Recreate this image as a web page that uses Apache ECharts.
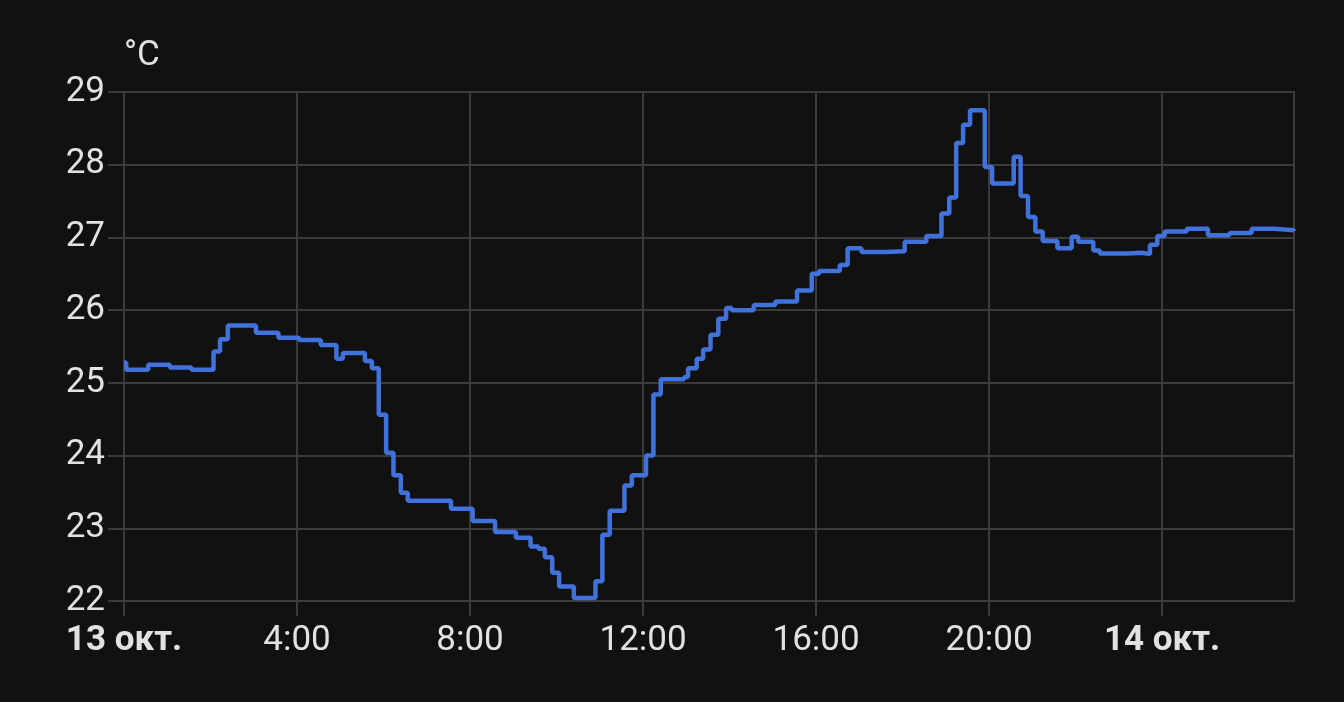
<!DOCTYPE html>
<html>
<head>
<meta charset="utf-8">
<script src="https://cdn.jsdelivr.net/npm/echarts@6/dist/echarts.min.js"></script>
<style>
html,body{margin:0;padding:0;background:#111111;}
#chart{width:1344px;height:702px;}
</style>
</head>
<body>
<div id="chart"></div>
<script>
// hours since 13 Oct 00:00
var hours = [0, 0.05, 0.56, 1.06, 1.56, 2.07, 2.22, 2.40, 3.05, 3.57, 4.05, 4.55, 4.91, 5.06, 5.57, 5.73, 5.89, 6.06, 6.23, 6.40, 6.56, 7.56, 8.06, 8.58, 9.06, 9.40, 9.58, 9.73, 9.90, 10.06, 10.40, 10.90, 11.06, 11.23, 11.57, 11.74, 12.07, 12.24, 12.41, 12.95, 13.04, 13.24, 13.39, 13.56, 13.74, 13.92, 14.05, 14.56, 15.06, 15.56, 15.90, 16.07, 16.55, 16.73, 17.05, 17.6, 18.05, 18.55, 18.90, 19.08, 19.24, 19.40, 19.56, 19.90, 20.07, 20.57, 20.73, 20.90, 21.07, 21.24, 21.58, 21.91, 22.06, 22.41, 22.56, 23.2, 23.53, 23.72, 23.89, 24.06, 24.57, 25.06, 25.56, 26.07, 26.6, 27.05];
var temps = [25.28, 25.18, 25.25, 25.21, 25.18, 25.43, 25.60, 25.79, 25.69, 25.62, 25.59, 25.52, 25.33, 25.41, 25.30, 25.20, 24.56, 24.04, 23.73, 23.49, 23.38, 23.27, 23.10, 22.95, 22.87, 22.75, 22.72, 22.60, 22.39, 22.20, 22.04, 22.27, 22.91, 23.24, 23.59, 23.73, 24.00, 24.84, 25.05, 25.08, 25.20, 25.33, 25.46, 25.66, 25.88, 26.03, 26.00, 26.07, 26.12, 26.27, 26.50, 26.54, 26.62, 26.85, 26.80, 26.81, 26.94, 27.02, 27.33, 27.55, 28.30, 28.55, 28.75, 27.97, 27.74, 28.11, 27.57, 27.28, 27.08, 26.95, 26.85, 27.01, 26.94, 26.82, 26.78, 26.79, 26.77, 26.90, 27.02, 27.08, 27.12, 27.03, 27.06, 27.12, 27.10, 27.09];
var xTicks = [0, 4, 8, 12, 16, 20, 24];
var xTickLabels = ['13 окт.', '4:00', '8:00', '12:00', '16:00', '20:00', '14 окт.'];
var yTicks = [22, 23, 24, 25, 26, 27, 28, 29];
var unitName = '°C';

var gridColor = '#3b3b3b';
var textColor = '#e2e2e2';
var data = hours.map(function (h, i) { return [h, temps[i]]; });

var chart = echarts.init(document.getElementById('chart'), null, {renderer: 'canvas'});
chart.setOption({
  backgroundColor: '#111111',
  animation: false,
  grid: {left: 124, right: 50, top: 92, bottom: 101, containLabel: false, outerBoundsMode: 'none'},
  xAxis: {
    type: 'value',
    min: 0,
    max: 27.05,
    interval: 4,
    axisLine: {show: false},
    axisTick: {show: true, length: 15, lineStyle: {color: gridColor, width: 2}, customValues: xTicks},
    splitLine: {show: true, lineStyle: {color: gridColor, width: 2}},
    axisLabel: {
      customValues: xTicks,
      margin: 23,
      color: textColor,
      fontFamily: 'Roboto',
      fontSize: 35,
      formatter: function (v) {
        var idx = xTicks.indexOf(Math.round(v));
        if (idx < 0 || Math.abs(v - Math.round(v)) > 1e-6) return '';
        var s = xTickLabels[idx];
        return (idx === 0 || idx === xTicks.length - 1) ? '{b|' + s + '}' : s;
      },
      rich: {b: {fontWeight: 'bold', fontSize: 35, fontFamily: 'Roboto', color: textColor}}
    }
  },
  yAxis: [{
    type: 'value',
    min: yTicks[0],
    max: yTicks[yTicks.length - 1],
    interval: 1,
    name: unitName,
    nameLocation: 'end',
    nameGap: 18,
    nameTextStyle: {color: textColor, fontFamily: 'Roboto', fontSize: 35, align: 'left', verticalAlign: 'bottom'},
    axisLine: {show: false},
    axisTick: {show: true, length: 16, lineStyle: {color: gridColor, width: 2}},
    splitLine: {show: true, lineStyle: {color: gridColor, width: 2}},
    axisLabel: {margin: 19, color: textColor, fontFamily: 'Roboto', fontSize: 35}
  }, {
    type: 'value',
    position: 'right',
    min: yTicks[0],
    max: yTicks[yTicks.length - 1],
    axisLine: {show: true, lineStyle: {color: gridColor, width: 2}},
    axisTick: {show: false},
    axisLabel: {show: false},
    splitLine: {show: false}
  }],
  series: [{
    type: 'line',
    step: 'end',
    data: data,
    showSymbol: false,
    symbol: 'none',
    lineStyle: {color: '#4171db', width: 4.5},
    itemStyle: {color: '#4171db'}
  }]
});
</script>
</body>
</html>
